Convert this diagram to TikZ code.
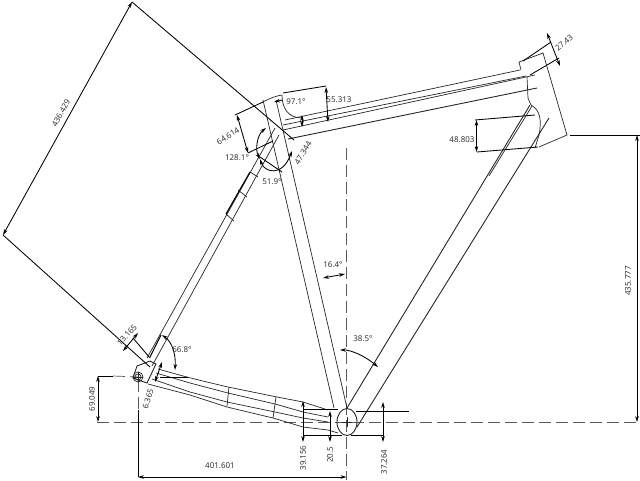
\documentclass[tikz,border=0pt]{standalone}
\usepackage{fontspec}
\setmainfont{Noto Sans}
\usetikzlibrary{arrows.meta}
\tikzset{
	>={Stealth[length=6pt,width=3.6pt]},
	part/.style={line width=0.7pt,black!85},
	heavy/.style={line width=1.1pt,black},
	dimline/.style={line width=0.85pt,black,<->},
	extline/.style={line width=0.85pt,black},
	centre/.style={line width=0.7pt,black!65,dash pattern=on 12pt off 5pt},
	dimtext/.style={font=\fontsize{8}{9}\selectfont,text=black!80,inner sep=0pt},
}
\begin{document}
\begin{tikzpicture}[x=1pt,y=-1pt]
		\useasboundingbox (0,0) rectangle (640,480);
		\coordinate (BB) at (347,422);
		\coordinate (DO) at (138,377);
		% centre lines
		\draw[centre] (97,422) -- (640,422);
		\draw[centre] (346.5,148) -- (346.5,480);
		\draw[centre] (113,376) -- (DO);
		\draw[centre] (138,380) -- (138,410);
		% bottom bracket
		\draw[part,line width=0.9pt] (BB) ellipse [x radius=10,y radius=13.5];
		\draw[part] (342,422) -- (352,422) (347,417) -- (347,427);
		% seat tube
		\draw[part] (263,100) -- (334,408);
		\draw[part] (276,100) -- (347,408);
		% down tube
		\draw[part,line width=0.9pt] (530,105) -- (347,408);
		\draw[part] (532,106) -- (489,176);
		\draw[part,line width=0.9pt] (549,118) -- (357,427);
		% top tube
		\draw[part] (285,120) -- (520,70);
		\draw[part] (283,125) -- (526,76);
		\draw[part] (283,130) -- (535,75);
		\draw[part,line width=0.9pt] (288,139) -- (537,88);
		% head tube
		\draw[part] (521,70) -- (519,62) -- (543,53) -- (567,135) -- (539,147);
		\draw[part] (527,77) -- (528,98) -- (531,105);
		\draw[part] (531,105) .. controls (540,110) and (542,120) .. (539,135) -- (535,148);
		% top junction
		\draw[part] (263,102) .. controls (270,98) and (276,96) .. (282,95);
		\draw[part] (282,95) .. controls (282,108) and (288,118) .. (302,118);
		% seat stay
		\draw[part] (147,358) -- (275,128);
		\draw[part] (152,366) -- (279,135);
		\draw[heavy] (226,214) -- (250,172);
		\draw[heavy] (150,357) -- (161,335);
		\draw[part] (226,214) -- (234,221);
		\draw[part] (238,190) -- (247,197);
		\draw[part] (250,172) -- (258,177);
		% chain stay
		\draw[part] (158,369) .. controls (190,378) .. (228,387) -- (277,397) -- (303,402) -- (328,410);
		\draw[part] (156,373) -- (190,383) -- (228,393) -- (275,404) -- (303,412) -- (328,417);
		\draw[part] (152,379) -- (190,392) -- (227,402) -- (275,412) -- (303,418) -- (328,422);
		\draw[part] (148,384) -- (190,395) -- (227,407) -- (273,418) -- (303,427) -- (328,430) -- (338,433);
		\draw[part] (229,387) -- (227,406);
		\draw[part] (276,397) -- (273,418);
		% dropout
		\draw[part,line width=0.9pt] (137,366) -- (150,361) -- (156,364) -- (147,383) -- (133,378) -- cycle;
		\draw[part] (DO) circle [radius=5];
		\draw[part] (DO) circle [radius=3];
		\draw[part] (133,377) -- (143,377) (DO) ++(0,-5) -- ++(0,10);
		% 436.429
		\coordinate (LT) at (132,2);
		\coordinate (LB) at (3,235);
		\draw[extline] (LT) -- (294,140);
		\draw[extline] (LB) -- (150,367);
		\draw[dimline] (LT) -- (LB);
		\node[dimtext,rotate=61,fill=white,inner xsep=1pt] (l436) at (61,113) {436.429};
		% 27.43
		\draw[extline] (523,61) -- (551,42);
		\draw[extline] (530,75) -- (559,58);
		\draw[dimline] (547,33) -- (560,66);
		\node[dimtext,rotate=40] (l27) at (564,43) {27.43};
		% 48.803
		\draw[extline] (475,120) -- (535,115);
		\draw[extline] (477,152) -- (538,147);
		\draw[dimline] (476.5,120) -- (476.5,152);
		\node[dimtext] (l48) at (462,140) {48.803};
		% 435.777
		\draw[extline] (570,135) -- (640,135);
		\draw[dimline] (637,135) -- (637,422);
		\node[dimtext,rotate=90] (l435) at (628,281) {435.777};
		% 55.313
		\draw[extline] (283,93) -- (326,86);
		\draw[dimline] (326,87) -- (328,122);
		\node[dimtext] (l55) at (339,100) {55.313};
		\draw[dimline] (302,115) -- (302,127);
		% 97.1
		\draw[->,line width=0.85pt] (282,100) -- (274,102);
		\node[dimtext] (l97) at (296,102) {97.1°};
		% 64.614
		\draw[extline] (235,115) -- (263,102);
		\draw[extline] (248,153) -- (273,141);
		\draw[dimline] (237,115) -- (248,153);
		\node[dimtext,rotate=32] (l64) at (228,136) {64.614};
		% 128.1 and 51.9
		\draw[dimline] (266,128) .. controls (257,135) and (255,150) .. (260,159);
		\node[dimtext] (l128) at (237,158) {128.1°};
		\draw[dimline] (260,159) .. controls (264,172) and (282,178) .. (292,151);
		\draw[extline] (260,157) -- (282,172);
		\node[dimtext] (l51) at (272,182) {51.9°};
		\node[dimtext,rotate=58] (l47) at (303,153) {47.344};
		% 13.165
		\draw[dimline] (123,351) -- (138,333);
		\draw[extline] (133,338) -- (150,358);
		\node[dimtext,rotate=47] (l13) at (127,335) {13.165};
		% 66.8
		\draw[dimline] (162,335) .. controls (172,342) and (176,354) .. (175,370);
		\node[dimtext] (l66) at (182,350) {66.8°};
		\draw[extline] (160,377) -- (188,377);
		% 6.365
		\draw[dimline] (162,362) -- (155,382);
		\node[dimtext,rotate=72] (l6) at (148,399) {6.365};
		% 69.049
		\draw[extline] (98,376) -- (113,376);
		\draw[dimline] (98,376) -- (98,422);
		\node[dimtext,rotate=90] (l69) at (92,399) {69.049};
		% 401.601
		\draw[extline] (138,410) -- (138,477);
		\draw[dimline] (138,477) -- (346.5,477);
		\node[dimtext] (l401) at (220,466) {401.601};
		% bracket dimensions
		\draw[extline] (303,409) -- (338,409);
		\draw[extline] (303,435) -- (342,435);
		\draw[extline] (351,435) -- (383,435);
		\draw[extline] (356,411) -- (409,411);
		\draw[dimline] (303,401) -- (303,442);
		\draw[dimline] (330,411) -- (330,442);
		\draw[dimline] (383,402) -- (383,442);
		\node[dimtext,rotate=90] (l39) at (303,458) {39.156};
		\node[dimtext,rotate=90] (l20) at (330,455) {20.5};
		\node[dimtext,rotate=90] (l37) at (384,462) {37.264};
		% tube angles
		\draw[dimline] (323,278) -- (345,274);
		\node[dimtext] (l16) at (333,265) {16.4°};
		\draw[dimline] (340,350) -- (346,350) .. controls (356,352) and (366,357) .. (378,367);
		\node[dimtext] (l38) at (363,339) {38.5°};
\end{tikzpicture}
\end{document}
